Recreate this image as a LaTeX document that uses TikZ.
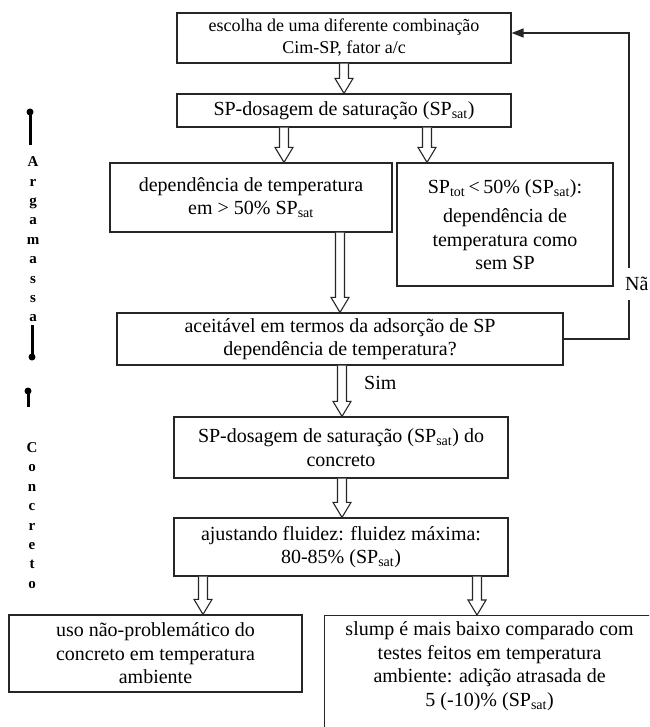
\documentclass[tikz,border=0pt]{standalone}
\usepackage{fontspec}
\setmainfont{Liberation Serif}
\usetikzlibrary{calc,arrows.meta}

\tikzset{
  box/.style={draw=black!85, line width=1.2pt, rectangle, align=center, inner sep=0pt,
    font=\fontsize{20}{23.5}\selectfont},
  hollow/.style={draw=black!85, line width=1.1pt, fill=white, line join=miter,
    to path={let \p1=(\tikztostart), \p2=(\tikztotarget) in
      (\x1-4.5pt,\y1) -- (\x1-4.5pt,\y2+15pt) -- (\x1-9pt,\y2+15pt) -- (\x1,\y2)
      -- (\x1+9pt,\y2+15pt) -- (\x1+4.5pt,\y2+15pt) -- (\x1+4.5pt,\y1)}},
  fb/.style={draw=black!85, line width=1.4pt, -{Triangle[length=12pt,width=9pt]}},
  lbl/.style={inner sep=0pt, font=\fontsize{20}{23.5}\selectfont},
  vword/.style={align=center, inner sep=0pt, font=\bfseries\fontsize{15}{19.4}\selectfont},
  pin/.style={line width=3pt, black}
}

\begin{document}
\begin{tikzpicture}[x=1pt, y=-1pt]
\useasboundingbox (0,0) rectangle (649,727);
\fill[white] (0,0) rectangle (649,727);
\clip (0,0) rectangle (649,727);

% process boxes
\node[box, minimum width=334pt, minimum height=50pt, font=\fontsize{18}{22}\selectfont] (b1) at (344,38)
  {escolha de uma diferente combinação\\Cim-SP, fator a/c};
\node[box, minimum width=334pt, minimum height=33pt] (b2) at (344,110.5)
  {SP-dosagem de saturação (SP\textsubscript{sat})};
\node[box, minimum width=282pt, minimum height=69pt] (b3) at (251,197.5)
  {dependência de temperatura\\em > 50\% SP\textsubscript{sat}};
\node[box, minimum width=216pt, minimum height=123pt] (b4) at (505,224.5)
  {SP\textsubscript{tot}\,<\,50\% (SP\textsubscript{sat}):\\[6pt]dependência de\\temperatura como\\sem SP};
\node[box, minimum width=446pt, minimum height=52pt] (b5) at (340,339)
  {aceitável em termos da adsorção de SP\\dependência de temperatura?};
\node[box, minimum width=334pt, minimum height=61pt] (b6) at (341,447.5)
  {SP-dosagem de saturação (SP\textsubscript{sat}) do\\concreto};
\node[box, minimum width=334pt, minimum height=58pt] (b7) at (341,547)
  {ajustando fluidez: fluidez máxima:\\80-85\% (SP\textsubscript{sat})};
\node[box, minimum width=293pt, minimum height=77pt] (b8) at (155.5,653.5)
  {uso não-problemático do\\concreto em temperatura\\ambiente};
\node[box, anchor=north west] (b9) at (324,615)
  {\parbox[t][175pt][t]{330pt}{\centering\vspace*{6pt}slump é mais baixo comparado com\\
   testes feitos em temperatura\\ambiente: adição atrasada de\\5 (-10)\% (SP\textsubscript{sat})}};

% columns of the hollow arrows
\coordinate (ax1) at (344,0);
\coordinate (ax2) at (284,0);
\coordinate (ax3) at (427,0);
\coordinate (ax4) at (340,0);
\coordinate (ax5) at (342,0);
\coordinate (ax6) at (203,0);
\coordinate (ax7) at (477,0);

\draw[hollow] (b1.south -| ax1) to (b2.north -| ax1);
\draw[hollow] (b2.south -| ax2) to (b3.north -| ax2);
\draw[hollow] (b2.south -| ax3) to (b4.north -| ax3);
\draw[hollow] (b3.south -| ax4) to (b5.north -| ax4);
\draw[hollow] (b5.south -| ax5) to (b6.north -| ax5);
\draw[hollow] (b6.south -| ax5) to (b7.north -| ax5);
\draw[hollow] (b7.south -| ax6) to (b8.north -| ax6);
\draw[hollow] (b7.south -| ax7) to (b9.north -| ax7);

% loop back to the first box
\coordinate (fbx) at (629,0);
\coordinate (fbin) at ([yshift=5pt]b1.east);
\draw[fb] (b5.east) -| (fbin -| fbx) -- (fbin);
\node[lbl, anchor=west, fill=white, inner xsep=1pt, inner ysep=9pt] (nao) at (624,284) {Nã};
\node[lbl, anchor=west] (sim) at (364,383) {Sim};

% side scale
\fill (30,112) circle (3.5pt);
\draw[pin] (30,112) -- (30,145);
\node[vword] (arg) at (33,239.5) {A\\r\\g\\a\\m\\a\\s\\s\\a};
\draw[pin] (32,325) -- (32,357);
\fill (32,357) circle (3.5pt);
\fill (28,391) circle (3.5pt);
\draw[pin] (28,391) -- (28,407);
\node[vword] (conc) at (32,515.5) {C\\o\\n\\c\\r\\e\\t\\o};
\end{tikzpicture}
\end{document}
